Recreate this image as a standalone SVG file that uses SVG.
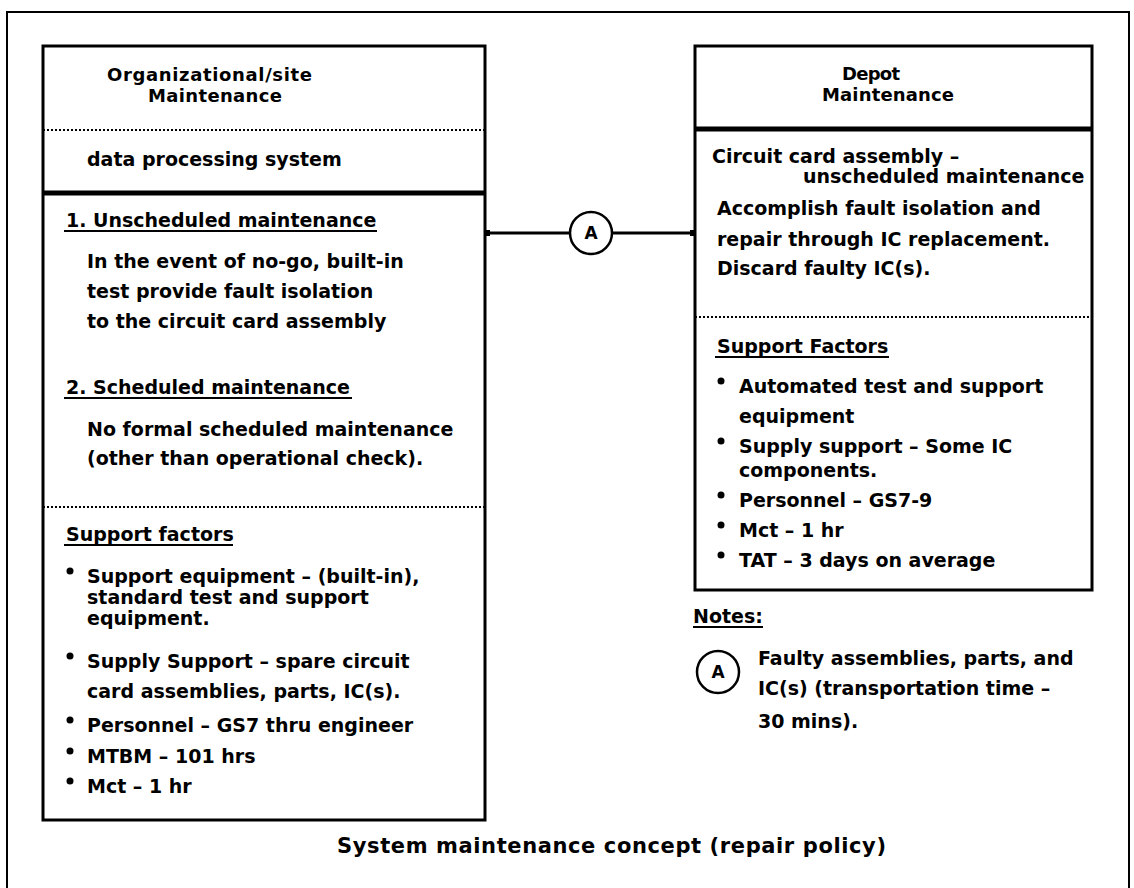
<svg xmlns="http://www.w3.org/2000/svg" width="1134" height="888" viewBox="0 0 1134 888">
  <style>
    text { font-family: "DejaVu Sans", "Liberation Sans", sans-serif; font-weight: bold; font-size: 19px; fill: #000; }
    .head { font-size: 18px; }
    .frame { fill: none; stroke: #000; stroke-width: 2; }
    .box { fill: none; stroke: #000; stroke-width: 3; }
    .thick { stroke: #000; stroke-width: 5; }
    .dotted { stroke: #000; stroke-width: 2; stroke-dasharray: 2 2; }
    .uline { stroke: #000; stroke-width: 2; }
    .bullet { fill: #000; }
    .ring { fill: #fff; stroke: #000; stroke-width: 2.5; }
    .link { stroke: #000; stroke-width: 3; fill: none; }
    .caption { font-size: 21px; }
    .tag { font-size: 17px; text-anchor: middle; }
  </style>
  <defs>
    <marker id="tick" viewBox="0 0 6 6" refX="3" refY="3" markerWidth="2" markerHeight="2.6" orient="auto">
      <rect x="0" y="0" width="6" height="6" fill="#000"/>
    </marker>
  </defs>

  <rect width="1134" height="888" fill="#fff"/>

  <!-- outer frame (open at the bottom) -->
  <path class="frame" d="M7,888 V12 H1129 V888"/>

  <!-- organizational / site maintenance column -->
  <g id="org-maintenance">
    <rect class="box" x="43" y="46" width="442" height="774"/>
    <text class="head" x="107" y="81" textLength="205" lengthAdjust="spacing">Organizational/site</text>
    <text class="head" x="148" y="102" textLength="134" lengthAdjust="spacing">Maintenance</text>
    <line class="dotted" x1="43" y1="130" x2="485" y2="130"/>
    <text x="87" y="166">data processing system</text>
    <line class="thick" x1="43" y1="193" x2="485" y2="193"/>

    <text x="66" y="227">1. Unscheduled maintenance</text>
    <line class="uline" x1="64" y1="231" x2="377" y2="231"/>
    <text x="87" y="268">In the event of no-go, built-in</text>
    <text x="87" y="298">test provide fault isolation</text>
    <text x="87" y="328">to the circuit card assembly</text>

    <text x="66" y="394">2. Scheduled maintenance</text>
    <line class="uline" x1="64" y1="398" x2="352" y2="398"/>
    <text x="87" y="436">No formal scheduled maintenance</text>
    <text x="87" y="465">(other than operational check).</text>

    <line class="dotted" x1="43" y1="507" x2="485" y2="507"/>
    <text x="66" y="541">Support factors</text>
    <line class="uline" x1="64" y1="545" x2="233" y2="545"/>

    <circle class="bullet" cx="70" cy="571" r="3.5"/>
    <text x="87" y="583">Support equipment – (built-in),</text>
    <text x="87" y="604">standard test and support</text>
    <text x="87" y="625">equipment.</text>
    <circle class="bullet" cx="70" cy="656" r="3.5"/>
    <text x="87" y="668">Supply Support – spare circuit</text>
    <text x="87" y="698">card assemblies, parts, IC(s).</text>
    <circle class="bullet" cx="70" cy="720" r="3.5"/>
    <text x="87" y="732">Personnel – GS7 thru engineer</text>
    <circle class="bullet" cx="70" cy="751" r="3.5"/>
    <text x="87" y="763">MTBM – 101 hrs</text>
    <circle class="bullet" cx="70" cy="781" r="3.5"/>
    <text x="87" y="793">Mct – 1 hr</text>
  </g>

  <!-- depot maintenance column -->
  <g id="depot-maintenance">
    <rect class="box" x="695" y="46" width="397" height="544"/>
    <text class="head" x="842" y="80" textLength="58" lengthAdjust="spacing">Depot</text>
    <text class="head" x="822" y="101" textLength="132" lengthAdjust="spacing">Maintenance</text>
    <line class="thick" x1="695" y1="129" x2="1092" y2="129"/>
    <text x="712" y="163">Circuit card assembly –</text>
    <text x="803" y="183">unscheduled maintenance</text>
    <text x="717" y="215">Accomplish fault isolation and</text>
    <text x="717" y="246">repair through IC replacement.</text>
    <text x="717" y="275">Discard faulty IC(s).</text>
    <line class="dotted" x1="695" y1="317" x2="1092" y2="317"/>
    <text x="717" y="353">Support Factors</text>
    <line class="uline" x1="715" y1="357" x2="889" y2="357"/>

    <circle class="bullet" cx="721" cy="381" r="3.5"/>
    <text x="739" y="393">Automated test and support</text>
    <text x="739" y="423">equipment</text>
    <circle class="bullet" cx="721" cy="441" r="3.5"/>
    <text x="739" y="453">Supply support – Some IC</text>
    <text x="739" y="477">components.</text>
    <circle class="bullet" cx="721" cy="495" r="3.5"/>
    <text x="739" y="507">Personnel – GS7-9</text>
    <circle class="bullet" cx="721" cy="525" r="3.5"/>
    <text x="739" y="537">Mct – 1 hr</text>
    <circle class="bullet" cx="721" cy="555" r="3.5"/>
    <text x="739" y="567">TAT – 3 days on average</text>
  </g>

  <!-- transfer link between the two levels -->
  <g id="connectors">
    <line class="link" x1="487" y1="233" x2="570" y2="233" marker-start="url(#tick)"/>
    <line class="link" x1="613" y1="233" x2="693" y2="233" marker-end="url(#tick)"/>
  </g>
  <g id="link-a">
    <circle class="ring" cx="591" cy="233" r="21"/>
    <text class="tag" x="591" y="239">A</text>
  </g>

  <!-- notes -->
  <g id="notes">
    <text x="693" y="623">Notes:</text>
    <line class="uline" x1="693" y1="627" x2="763" y2="627"/>
    <circle class="ring" cx="718" cy="672" r="21"/>
    <text class="tag" x="718" y="678">A</text>
    <text x="758" y="665">Faulty assemblies, parts, and</text>
    <text x="758" y="695">IC(s) (transportation time –</text>
    <text x="758" y="728">30 mins).</text>
  </g>

  <text class="caption" x="337" y="853" textLength="549" lengthAdjust="spacing">System maintenance concept (repair policy)</text>
</svg>
